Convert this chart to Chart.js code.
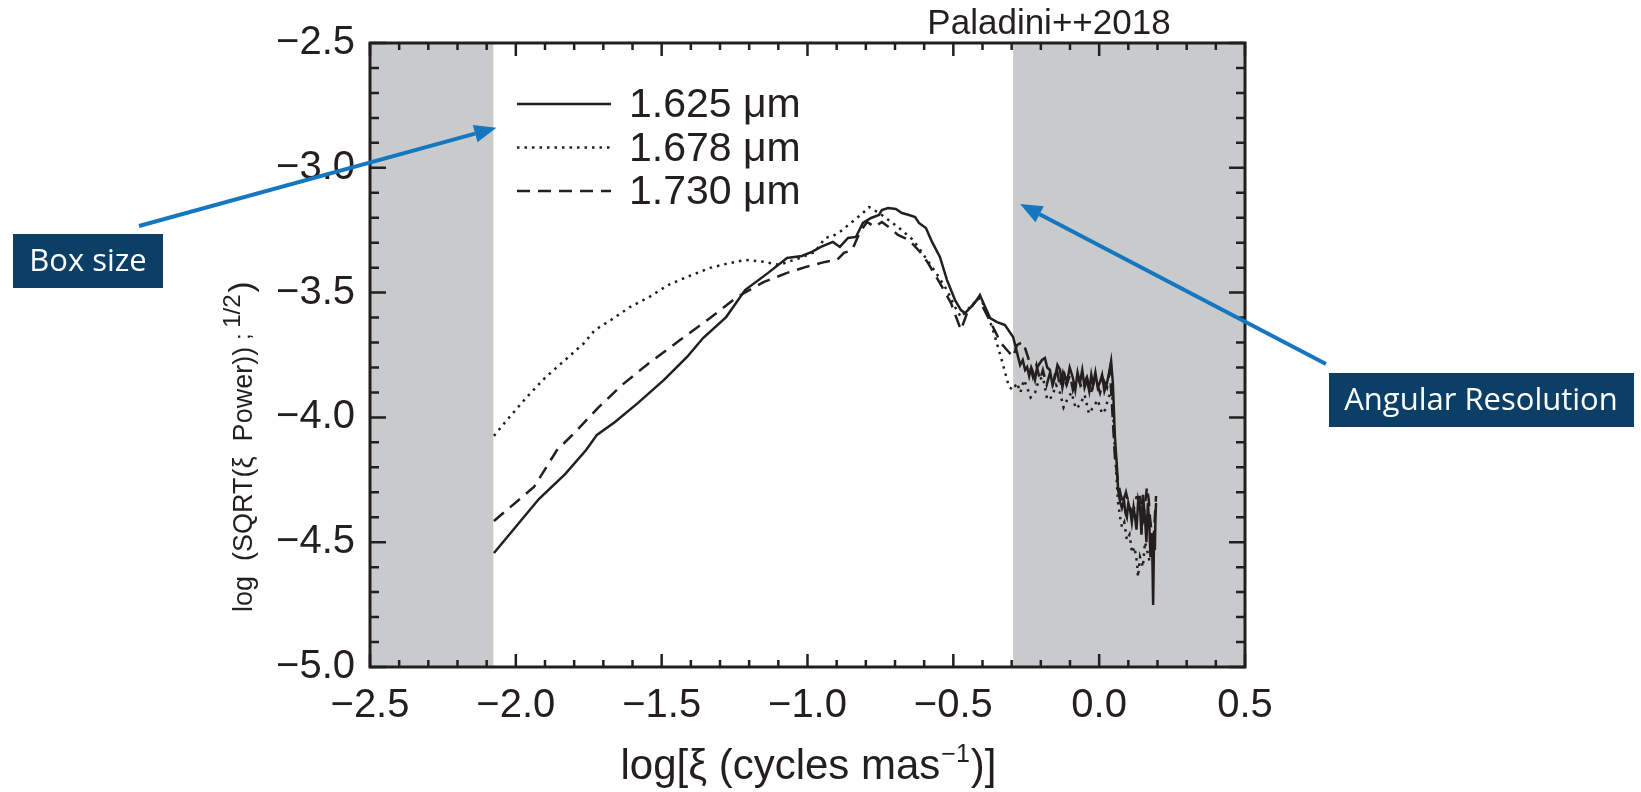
<!DOCTYPE html>
<html>
<head>
<meta charset="utf-8">
<script src="https://cdn.jsdelivr.net/npm/chart.js@4.4.1/dist/chart.umd.min.js"></script>
<style>
  html, body { margin: 0; padding: 0; background: #fff; }
</style>
</head>
<body>
<canvas id="myChart" width="1641" height="792"></canvas>
<script>
// values (log xi, log amplitude)
var x1625 = [-2.075,-1.921,-1.831,-1.759,-1.722,-1.660,-1.581,-1.492,-1.413,-1.358,-1.279,-1.214,-1.135,-1.070,-1.019,-0.985,-0.954,-0.913,-0.889,-0.861,-0.834,-0.810,-0.782,-0.755,-0.745,-0.724,-0.697,-0.676,-0.652,-0.631,-0.618,-0.594,-0.573,-0.546,-0.522,-0.494,-0.474,-0.460,-0.443,-0.419,-0.409,-0.391,-0.374,-0.350,-0.323,-0.295,
    -0.271,-0.262,-0.254,-0.247,-0.240,-0.233,-0.227,-0.220,-0.213,-0.203,-0.196,-0.186,-0.178,-0.169,-0.160,-0.151,-0.143,-0.134,-0.126,-0.118,-0.110,-0.101,-0.090,-0.082,-0.074,-0.066,-0.058,-0.050,-0.042,-0.034,-0.027,-0.021,-0.013,-0.005,0.003,0.010,0.018,0.027,0.034,0.041,0.047,
    0.054,0.061,0.065,0.072,0.078,0.085,0.090,0.095,0.100,0.106,0.112,0.118,0.123,0.128,0.134,0.140,0.145,0.150,0.157,0.162,0.167,0.172,0.176,0.181,0.183,0.185,0.188,0.191,0.193,0.195]
var y1625 = [-4.543,-4.327,-4.227,-4.131,-4.070,-4.018,-3.942,-3.850,-3.758,-3.682,-3.598,-3.490,-3.421,-3.361,-3.353,-3.337,-3.317,-3.297,-3.317,-3.281,-3.277,-3.221,-3.201,-3.189,-3.169,-3.161,-3.165,-3.181,-3.189,-3.197,-3.221,-3.241,-3.297,-3.357,-3.449,-3.530,-3.570,-3.582,-3.562,-3.530,-3.510,-3.558,-3.602,-3.618,-3.630,-3.678,
    -3.790,-3.770,-3.810,-3.798,-3.835,-3.800,-3.818,-3.850,-3.800,-3.782,-3.770,-3.762,-3.800,-3.810,-3.870,-3.838,-3.790,-3.810,-3.880,-3.830,-3.858,-3.800,-3.842,-3.890,-3.820,-3.862,-3.810,-3.880,-3.850,-3.895,-3.830,-3.870,-3.820,-3.880,-3.858,-3.830,-3.895,-3.862,-3.820,-3.775,-3.862,
    -4.078,-4.199,-4.291,-4.340,-4.363,-4.330,-4.383,-4.400,-4.343,-4.370,-4.420,-4.360,-4.399,-4.450,-4.330,-4.359,-4.470,-4.310,-4.399,-4.500,-4.343,-4.430,-4.560,-4.463,-4.600,-4.752,-4.500,-4.531,-4.400,-4.343]

var x1678 = [-2.075,-2.030,-1.962,-1.897,-1.831,-1.766,-1.729,-1.674,-1.609,-1.543,-1.478,-1.413,-1.334,-1.279,-1.214,-1.149,-1.098,-1.026,-0.974,-0.940,-0.913,-0.889,-0.847,-0.810,-0.789,-0.745,-0.690,-0.638,-0.597,-0.559,-0.522,-0.494,-0.474,-0.443,-0.409,-0.388,-0.364,-0.337,-0.309,-0.295,-0.282,
    -0.270,-0.258,-0.247,-0.235,-0.220,-0.207,-0.193,-0.178,-0.162,-0.148,-0.134,-0.122,-0.110,-0.095,-0.080,-0.066,-0.050,-0.035,-0.021,-0.005,0.010,0.020,0.032,0.044,
    0.054,0.060,0.065,0.072,0.078,0.086,0.095,0.104,0.113,0.121,0.130,0.133,0.140,0.150,0.157,0.164,0.174]
var y1678 = [-4.074,-4.010,-3.918,-3.838,-3.770,-3.702,-3.650,-3.610,-3.558,-3.518,-3.470,-3.437,-3.401,-3.385,-3.369,-3.377,-3.389,-3.361,-3.337,-3.281,-3.273,-3.257,-3.217,-3.181,-3.157,-3.189,-3.237,-3.289,-3.357,-3.421,-3.490,-3.558,-3.598,-3.558,-3.518,-3.570,-3.650,-3.758,-3.878,-3.890,-3.862,
    -3.900,-3.850,-3.880,-3.920,-3.902,-3.850,-3.838,-3.930,-3.918,-3.870,-3.902,-3.960,-3.930,-3.900,-3.965,-3.950,-3.910,-3.985,-3.960,-3.930,-3.985,-3.970,-3.920,-3.890,
    -4.131,-4.250,-4.343,-4.400,-4.439,-4.420,-4.491,-4.470,-4.543,-4.520,-4.583,-4.639,-4.560,-4.599,-4.500,-4.531,-4.583]

var x1730 = [-2.075,-1.938,-1.859,-1.799,-1.715,-1.636,-1.543,-1.437,-1.334,-1.242,-1.149,-1.070,-1.005,-0.940,-0.899,-0.875,-0.847,-0.820,-0.796,-0.769,-0.745,-0.717,-0.690,-0.652,-0.611,-0.587,-0.546,-0.508,-0.474,-0.453,-0.415,-0.388,-0.364,-0.337,-0.316,-0.295,-0.282,-0.261,-0.244,-0.227,
    -0.215,-0.203,-0.193,-0.180,-0.168,-0.158,-0.146,-0.134,-0.124,-0.112,-0.100,-0.090,-0.075,-0.060,-0.042,-0.028,-0.013,0.003,0.015,0.027,0.037,
    0.054,0.065,0.074,0.082,0.092,0.104,0.116,0.128,0.140,0.152,0.164,0.170,0.174,0.180,0.185,0.190,0.195]
var y1730 = [-4.415,-4.279,-4.131,-4.062,-3.958,-3.870,-3.782,-3.690,-3.602,-3.518,-3.457,-3.421,-3.397,-3.377,-3.369,-3.341,-3.329,-3.257,-3.217,-3.237,-3.217,-3.241,-3.269,-3.289,-3.341,-3.381,-3.462,-3.542,-3.650,-3.582,-3.522,-3.582,-3.638,-3.702,-3.730,-3.758,-3.710,-3.698,-3.758,-3.838,
    -3.790,-3.850,-3.810,-3.870,-3.820,-3.862,-3.800,-3.880,-3.822,-3.870,-3.830,-3.890,-3.835,-3.880,-3.838,-3.900,-3.840,-3.902,-3.850,-3.880,-3.810,
    -4.159,-4.263,-4.310,-4.343,-4.300,-4.360,-4.383,-4.320,-4.319,-4.400,-4.279,-4.330,-4.399,-4.460,-4.531,-4.420,-4.315]

var seriesLabels = ['1.625 μm', '1.678 μm', '1.730 μm']
var xTickValues = [-2.5, -2.0, -1.5, -1.0, -0.5, 0.0, 0.5]
var xTickLabels = ['−2.5', '−2.0', '−1.5', '−1.0', '−0.5', '0.0', '0.5']
var yTickValues = [-5.0, -4.5, -4.0, -3.5, -3.0, -2.5]
var yTickLabels = ['−5.0', '−4.5', '−4.0', '−3.5', '−3.0', '−2.5']

// shaded limits: box size and angular resolution
var boxSizeLimit = -2.077
var resolutionLimit = -0.295
// where the arrows point (data units)
var boxArrowY = -2.84
var resArrowY = -3.145

var ink = '#231f20'
var helv = '"Liberation Sans", Arial, Helvetica, sans-serif'

function pts(xs, ys) {
    return xs.map(function (x, i) { return {x: x, y: ys[i]} })
}

function arrow(ctx, x0, y0, x1, y1) {
    var a = Math.atan2(y1 - y0, x1 - x0)
    var hl = 22, hw = 9
    var bx = x1 - hl * Math.cos(a), by = y1 - hl * Math.sin(a)
    ctx.beginPath()
    ctx.moveTo(x0, y0)
    ctx.lineTo(bx, by)
    ctx.stroke()
    ctx.beginPath()
    ctx.moveTo(x1, y1)
    ctx.lineTo(bx + hw * Math.sin(a), by - hw * Math.cos(a))
    ctx.lineTo(bx - hw * Math.sin(a), by + hw * Math.cos(a))
    ctx.closePath()
    ctx.fill()
}

var decor = {
    id: 'decor',
    beforeDatasetsDraw: function (chart) {
        var ctx = chart.ctx, a = chart.chartArea, xs = chart.scales.x
        ctx.save()
        ctx.fillStyle = '#c9cacc'
        var l = xs.getPixelForValue(boxSizeLimit)
        ctx.fillRect(a.left, a.top, l - a.left, a.bottom - a.top)
        var r = xs.getPixelForValue(resolutionLimit)
        ctx.fillRect(r, a.top, a.right - r, a.bottom - a.top)
        ctx.restore()
    },
    afterDatasetsDraw: function (chart) {
        var ctx = chart.ctx, a = chart.chartArea
        var xs = chart.scales.x, ys = chart.scales.y
        ctx.save()
        ctx.strokeStyle = ink
        ctx.lineWidth = 3
        ctx.strokeRect(a.left, a.top, a.right - a.left, a.bottom - a.top)
        ctx.lineWidth = 2.5
        ctx.beginPath()
        for (var i = 0; i <= 30; i++) {
            var px = xs.getPixelForValue(-2.5 + i * 0.1)
            var len = i % 5 === 0 ? 13 : 7
            ctx.moveTo(px, a.bottom); ctx.lineTo(px, a.bottom - len)
            ctx.moveTo(px, a.top); ctx.lineTo(px, a.top + len)
        }
        for (var j = 0; j <= 25; j++) {
            var py = ys.getPixelForValue(-5 + j * 0.1)
            var ln = j % 5 === 0 ? 16 : 9
            ctx.moveTo(a.left, py); ctx.lineTo(a.left + ln, py)
            ctx.moveTo(a.right, py); ctx.lineTo(a.right - ln, py)
        }
        ctx.stroke()
        ctx.restore()
    },
    afterDraw: function (chart) {
        var ctx = chart.ctx, a = chart.chartArea
        var xs = chart.scales.x, ys = chart.scales.y
        ctx.save()
        ctx.fillStyle = ink
        ctx.strokeStyle = ink

        // legend
        chart.data.datasets.forEach(function (ds, k) {
            var base = 117 + k * 43.5
            ctx.lineWidth = ds.borderWidth
            ctx.setLineDash(ds.borderDash || [])
            ctx.beginPath()
            ctx.moveTo(517, base - 13)
            ctx.lineTo(611, base - 13)
            ctx.stroke()
            ctx.setLineDash([])
            ctx.font = '41px ' + helv
            ctx.textAlign = 'left'
            ctx.textBaseline = 'alphabetic'
            ctx.fillText(ds.label, 629, base)
        })

        // source
        ctx.font = '35px ' + helv
        ctx.textAlign = 'center'
        ctx.fillText('Paladini++2018', 1049, 34)

        // x title
        var p1 = 'log[ξ (cycles mas', p2 = '−1', p3 = ')]'
        ctx.font = '42px ' + helv
        var w1 = ctx.measureText(p1).width, w3 = ctx.measureText(p3).width
        ctx.font = '25px ' + helv
        var w2 = ctx.measureText(p2).width
        var sx = (a.left + a.right) / 2 - (w1 + w2 + w3) / 2
        ctx.textAlign = 'left'
        ctx.font = '42px ' + helv
        ctx.fillText(p1, sx, 779)
        ctx.font = '25px ' + helv
        ctx.fillText(p2, sx + w1 + 1, 762)
        ctx.font = '42px ' + helv
        ctx.fillText(p3, sx + w1 + w2 + 2, 779)

        // y title
        ctx.save()
        ctx.translate(252, 612)
        ctx.rotate(-Math.PI / 2)
        ctx.textAlign = 'left'
        ctx.font = '27px ' + helv
        var t = 'log  (SQRT(ξ  Power))'
        ctx.fillText(t, 0, 0)
        var tw = ctx.measureText(t).width
        ctx.font = '22px ' + helv
        ctx.fillText(';', tw + 7, -2)
        ctx.font = '24px ' + helv
        ctx.fillText('1/2', tw + 19, -12)
        var sw = ctx.measureText('1/2').width
        ctx.font = '33px ' + helv
        ctx.fillText(')', tw + 21 + sw, 0)
        ctx.restore()

        // annotations
        ctx.strokeStyle = '#1477c0'
        ctx.fillStyle = '#1477c0'
        ctx.lineWidth = 4
        arrow(ctx, 139, 226, xs.getPixelForValue(boxSizeLimit) + 3, ys.getPixelForValue(boxArrowY))
        arrow(ctx, 1326, 364, xs.getPixelForValue(resolutionLimit) + 7, ys.getPixelForValue(resArrowY))

        ctx.fillStyle = '#0c3f66'
        ctx.fillRect(13, 234, 150, 54)
        ctx.fillRect(1329, 373, 305, 54)
        ctx.fillStyle = '#ffffff'
        ctx.font = '31px "Open Sans", "Noto Sans", sans-serif'
        ctx.textAlign = 'center'
        ctx.textBaseline = 'middle'
        ctx.fillText('Box size', 88, 262)
        ctx.fillText('Angular Resolution', 1481, 401)
        ctx.restore()
    }
}

var ctx = document.getElementById('myChart')
var myChart = new Chart(ctx, {
    type: 'line',
    data: {
        datasets: [{
            label: seriesLabels[0],
            data: pts(x1625, y1625),
            borderColor: ink,
            borderWidth: 2.5,
            pointRadius: 0
        }, {
            label: seriesLabels[1],
            data: pts(x1678, y1678),
            borderColor: ink,
            borderWidth: 2.5,
            borderDash: [2.5, 5],
            pointRadius: 0
        }, {
            label: seriesLabels[2],
            data: pts(x1730, y1730),
            borderColor: ink,
            borderWidth: 2.5,
            borderDash: [13, 8],
            pointRadius: 0
        }]
    },
    options: {
        responsive: false,
        animation: false,
        devicePixelRatio: 1,
        layout: { padding: { left: 0, right: 396, top: 43, bottom: 0 } },
        plugins: { legend: { display: false }, tooltip: { enabled: false } },
        elements: { line: { tension: 0 } },
        scales: {
            x: {
                type: 'linear',
                min: -2.5,
                max: 0.5,
                grid: { display: false, drawTicks: false },
                border: { display: false },
                afterBuildTicks: function (s) {
                    s.ticks = xTickValues.map(function (v) { return {value: v} })
                },
                afterFit: function (s) { s.height = 125 },
                ticks: {
                    padding: 15,
                    color: ink,
                    font: { family: helv, size: 40 },
                    maxRotation: 0,
                    callback: function (v, i) { return xTickLabels[i] }
                }
            },
            y: {
                type: 'linear',
                min: -5.0,
                max: -2.5,
                grid: { display: false, drawTicks: false },
                border: { display: false },
                afterBuildTicks: function (s) {
                    s.ticks = yTickValues.map(function (v) { return {value: v} })
                },
                afterFit: function (s) { s.width = 370 },
                ticks: {
                    padding: 15,
                    color: ink,
                    font: { family: helv, size: 40 },
                    callback: function (v, i) { return yTickLabels[i] }
                }
            }
        }
    },
    plugins: [decor]
})
</script>
</body>
</html>
